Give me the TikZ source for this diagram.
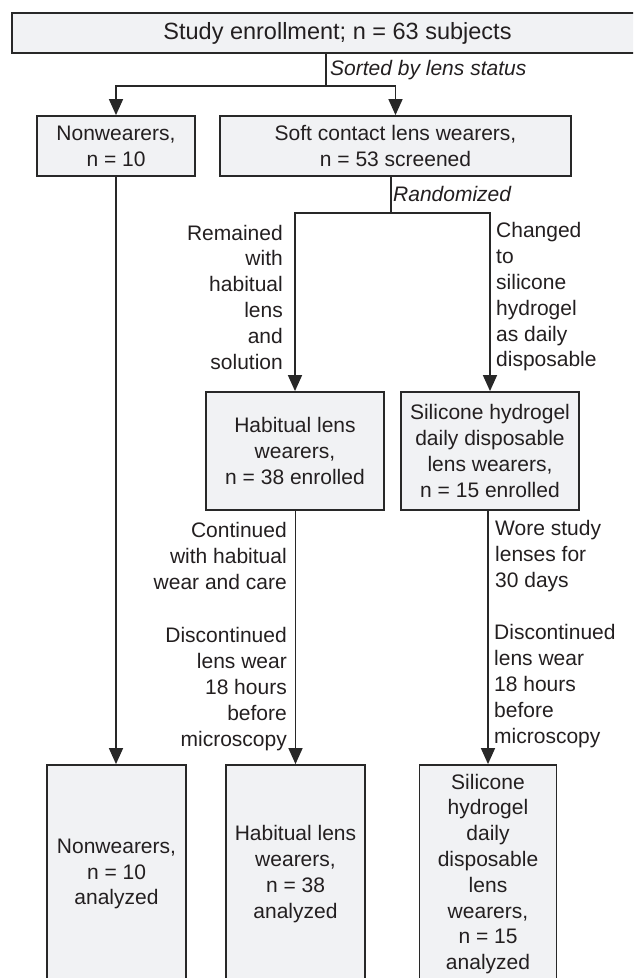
\documentclass[tikz,border=0pt]{standalone}
\usepackage{fontspec}
\setmainfont{Liberation Sans}
\usetikzlibrary{arrows.meta}
\definecolor{boxfill}{RGB}{241,242,244}
\definecolor{linec}{RGB}{40,40,40}
\definecolor{textc}{RGB}{35,31,32}
\begin{document}
\begin{tikzpicture}[x=1pt,y=-1pt,
  every node/.style={text=textc},
  flowbox/.style={draw=linec,line width=1.8pt,fill=boxfill,inner sep=0pt,align=center,
    font=\fontsize{21}{25.8}\selectfont},
  lbl/.style={inner sep=0pt,font=\fontsize{21}{25.8}\selectfont},
  ilbl/.style={inner sep=0pt,font=\fontsize{21}{25.8}\selectfont\itshape},
  conn/.style={draw=linec,line width=1.5pt},
  arr/.style={conn,-{Triangle[width=14pt,length=16pt]}}]
\useasboundingbox (0,0) rectangle (633,978);
\begin{scope}
\clip (0,0) rectangle (633,978);
% boxes
\node[flowbox,minimum width=651pt,minimum height=40pt,font=\fontsize{23.5}{28}\selectfont] (top) at (337.5,33) {Study enrollment; n = 63 subjects};
\node[flowbox,minimum width=158pt,minimum height=60pt] (nw) at (116,146) {Nonwearers,\\n = 10};
\node[flowbox,minimum width=351pt,minimum height=60pt] (soft) at (395.5,146) {Soft contact lens wearers,\\n = 53 screened};
\node[flowbox,minimum width=178pt,minimum height=118pt] (hab) at (295,451) {Habitual lens\\wearers,\\n = 38 enrolled};
\node[flowbox,minimum width=178pt,minimum height=118pt] (sil) at (490,451) {Silicone hydrogel\\daily disposable\\lens wearers,\\n = 15 enrolled};
\node[flowbox,minimum width=139pt,minimum height=218pt] (nw2) at (116.5,874) {Nonwearers,\\n = 10\\analyzed};
\node[flowbox,minimum width=139pt,minimum height=218pt] (hab2) at (295.5,874) {Habitual lens\\wearers,\\n = 38\\analyzed};
\node[flowbox,minimum width=137pt,minimum height=218pt] (sil2) at (488,874) {Silicone\\hydrogel\\daily\\disposable\\lens\\wearers,\\n = 15\\analyzed};
% connectors
\coordinate (s1) at (326,86);
\coordinate (r1) at (391,213);
\draw[conn] (top.south -| s1) -- (s1);
\draw[arr] (s1) -| (nw.north);
\draw[arr] (s1) -| (soft.north);
\draw[arr] (nw.south) -- (nw.south |- nw2.north);
\draw[conn] (soft.south -| r1) -- (r1);
\draw[arr] (r1) -| (hab.north);
\draw[arr] (r1) -| (sil.north);
\draw[arr] (hab2.north |- hab.south) -- (hab2.north);
\draw[arr] (sil2.north |- sil.south) -- (sil2.north);
% labels
\node[ilbl,anchor=west] (lsort) at (330,70) {Sorted by lens status};
\node[ilbl,anchor=west] (lrand) at (393,194) {Randomized};
\node[lbl,anchor=east,align=right] (lrem) at (283,297) {Remained\\with\\habitual\\lens\\and\\solution};
\node[lbl,anchor=west,align=left] (lchg) at (496,297) {Changed\\to\\silicone\\hydrogel\\as daily\\disposable};
\node[lbl,anchor=east,align=right] (lcont) at (287,556) {Continued\\with habitual\\wear and care};
\node[lbl,anchor=west,align=left] (lwore) at (495,556) {Wore study\\lenses for\\30 days};
\node[lbl,anchor=east,align=right] (ldis1) at (287,689) {Discontinued\\lens wear\\18 hours\\before\\microscopy};
\node[lbl,anchor=west,align=left] (ldis2) at (494,686) {Discontinued\\lens wear\\18 hours\\before\\microscopy};
\end{scope}
\end{tikzpicture}
\end{document}
